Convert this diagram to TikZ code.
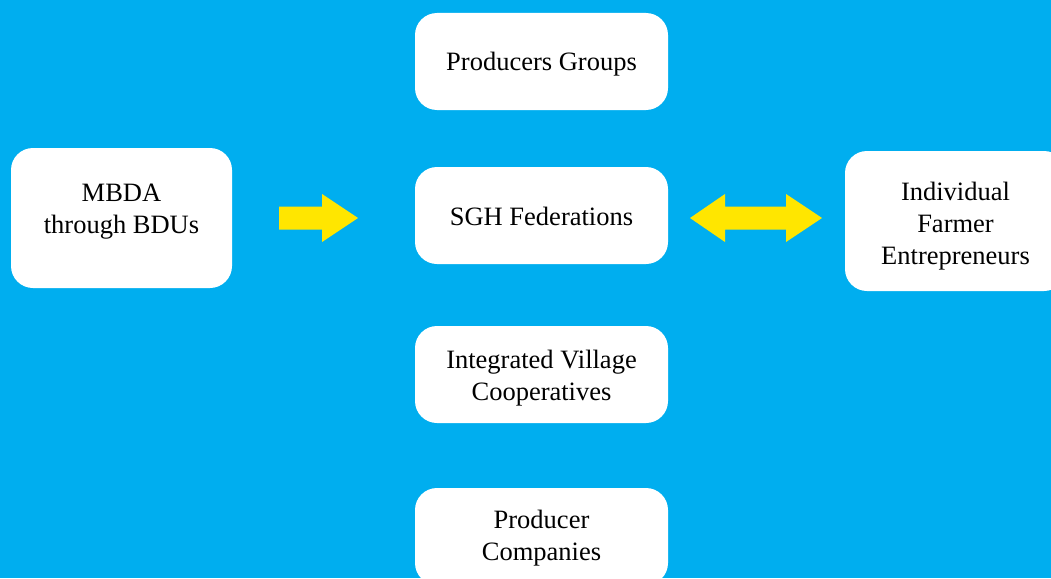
\documentclass[tikz,border=0pt]{standalone}
\usepackage{fontspec}
\setmainfont{Liberation Serif}
\definecolor{bgblue}{RGB}{0,174,239}
\definecolor{arrowyellow}{RGB}{255,230,0}
\newcommand\boxlines[2]{\raisebox{#1}[\height][\depth]{\begin{tabular}{@{}c@{}}#2\end{tabular}}}
\begin{document}
\begin{tikzpicture}[x=1pt,y=-1pt,
  box/.style={fill=white, draw=none, rounded corners=22pt, minimum width=253pt, minimum height=97pt, font=\fontsize{26.5}{32}\selectfont, inner sep=0pt},
  sidebox/.style={box, minimum width=221pt, minimum height=140pt},
  yarrow/.style={fill=arrowyellow, draw=none}]
\useasboundingbox (0,0) rectangle (1051,578);
\clip (0,0) rectangle (1051,578);
\fill[bgblue] (0,0) rectangle (1051,578);
\node[box] (pg) at (541.5,61.5) {\boxlines{-3pt}{Producers Groups}};
\node[box] (sgh) at (541.5,215.5) {\boxlines{-4pt}{SGH Federations}};
\node[box] (ivc) at (541.5,374.5) {\boxlines{-3.5pt}{Integrated Village\\Cooperatives}};
\node[box] (pc) at (541.5,536.5) {\boxlines{-2pt}{Producer\\Companies}};
\node[sidebox] (mbda) at (121.5,218) {\boxlines{6.5pt}{MBDA\\through BDUs}};
\node[sidebox] (ife) at (955.5,221) {\boxlines{-5pt}{Individual\\Farmer\\Entrepreneurs}};
\coordinate (a1s) at (279,218);
\coordinate (a1t) at (358,218);
\fill[yarrow] (a1s) ++(0,-11.5) -- ++(43,0) -- ++(0,-12.5) -- (a1t) -- ++(-36,24) -- ++(0,-12.5) -- ++(-43,0) -- cycle;
\coordinate (a2l) at (690,218);
\coordinate (a2r) at (822,218);
\fill[yarrow] (a2l) -- ++(35,-24) -- ++(0,12.5) -- ++(61,0) -- ++(0,-12.5) -- (a2r) -- ++(-36,24) -- ++(0,-12.5) -- ++(-61,0) -- ++(0,12.5) -- cycle;
\end{tikzpicture}
\end{document}
